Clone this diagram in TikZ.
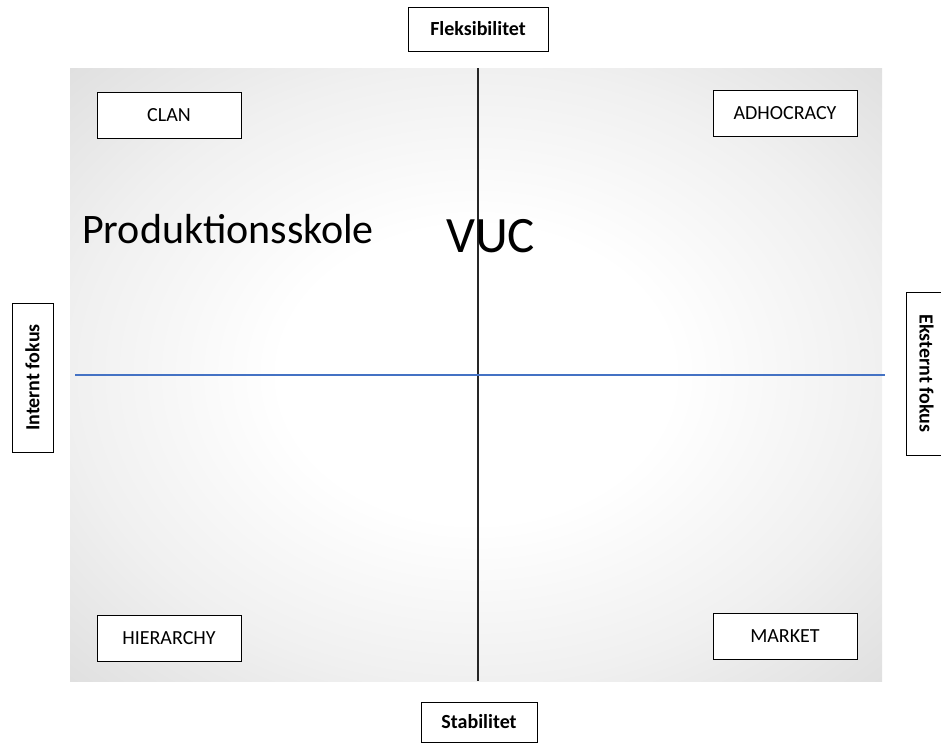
\documentclass[tikz,border=0pt]{standalone}
\usepackage{fontspec}
\setmainfont{Carlito}
\definecolor{bgedge}{HTML}{F0F0F0}
\definecolor{bgcorner}{HTML}{DFDFDF}
\definecolor{axisblue}{HTML}{4472C4}
\pgfdeclareradialshading{quadshade}{\pgfpoint{0bp}{0bp}}{color(0bp)=(white); color(12bp)=(white); color(25bp)=(bgedge); color(36bp)=(bgcorner); color(50bp)=(bgcorner)}

\begin{document}
\begin{tikzpicture}[x=1pt, y=-1pt,
                    quad node/.style={rectangle,draw,line width=1pt,fill=white,minimum width=144pt,minimum height=46pt,
                                      inner sep=0pt,font=\fontsize{20}{24}\selectfont},
                    axis node/.style={rectangle,draw,line width=1pt,fill=white,inner sep=0pt,
                                      font=\fontsize{20}{24}\selectfont\bfseries},
                    big text/.style={inner sep=0pt,font=\fontsize{42}{48}\selectfont}]

  \useasboundingbox (0,0) rectangle (941,744);

  % background field
  \shade[shading=quadshade] (70,68) rectangle (882,681);

  \coordinate (top) at (478,68);
  \coordinate (bottom) at (478,681);
  \coordinate (left) at (75,375);
  \coordinate (right) at (885,375);

  \draw[line width=1.4pt, black!85] (top) -- (bottom);
  \draw[line width=1.4pt, axisblue] (left) -- (right);

  % quadrants
  \node[quad node] (clan) at (169,115) {CLAN};
  \node[quad node] (adhoc) at (785,113) {ADHOCRACY};
  \node[quad node] (hier) at (169,638) {HIERARCHY};
  \node[quad node] (market) at (785,636) {MARKET};

  % axes
  \node[axis node, minimum width=140pt, minimum height=44pt] (flex) at (478,29) {Fleksibilitet};
  \node[axis node, minimum width=116pt, minimum height=40pt] (stab) at (479,722) {Stabilitet};
  \node[axis node, rotate=90, minimum width=149pt, minimum height=41pt] (intern) at (32.5,377.5) {Internt fokus};
  \node[axis node, rotate=-90, minimum width=163pt, minimum height=41pt] (extern) at (926.5,373.5) {Eksternt fokus};

  \node[big text, anchor=base west] (prod) at (82,243) {Produktionsskole};
  \node[big text, anchor=base west, font=\fontsize{51}{56}\selectfont] (vuc) at (446,252) {VUC};
\end{tikzpicture}
\end{document}
